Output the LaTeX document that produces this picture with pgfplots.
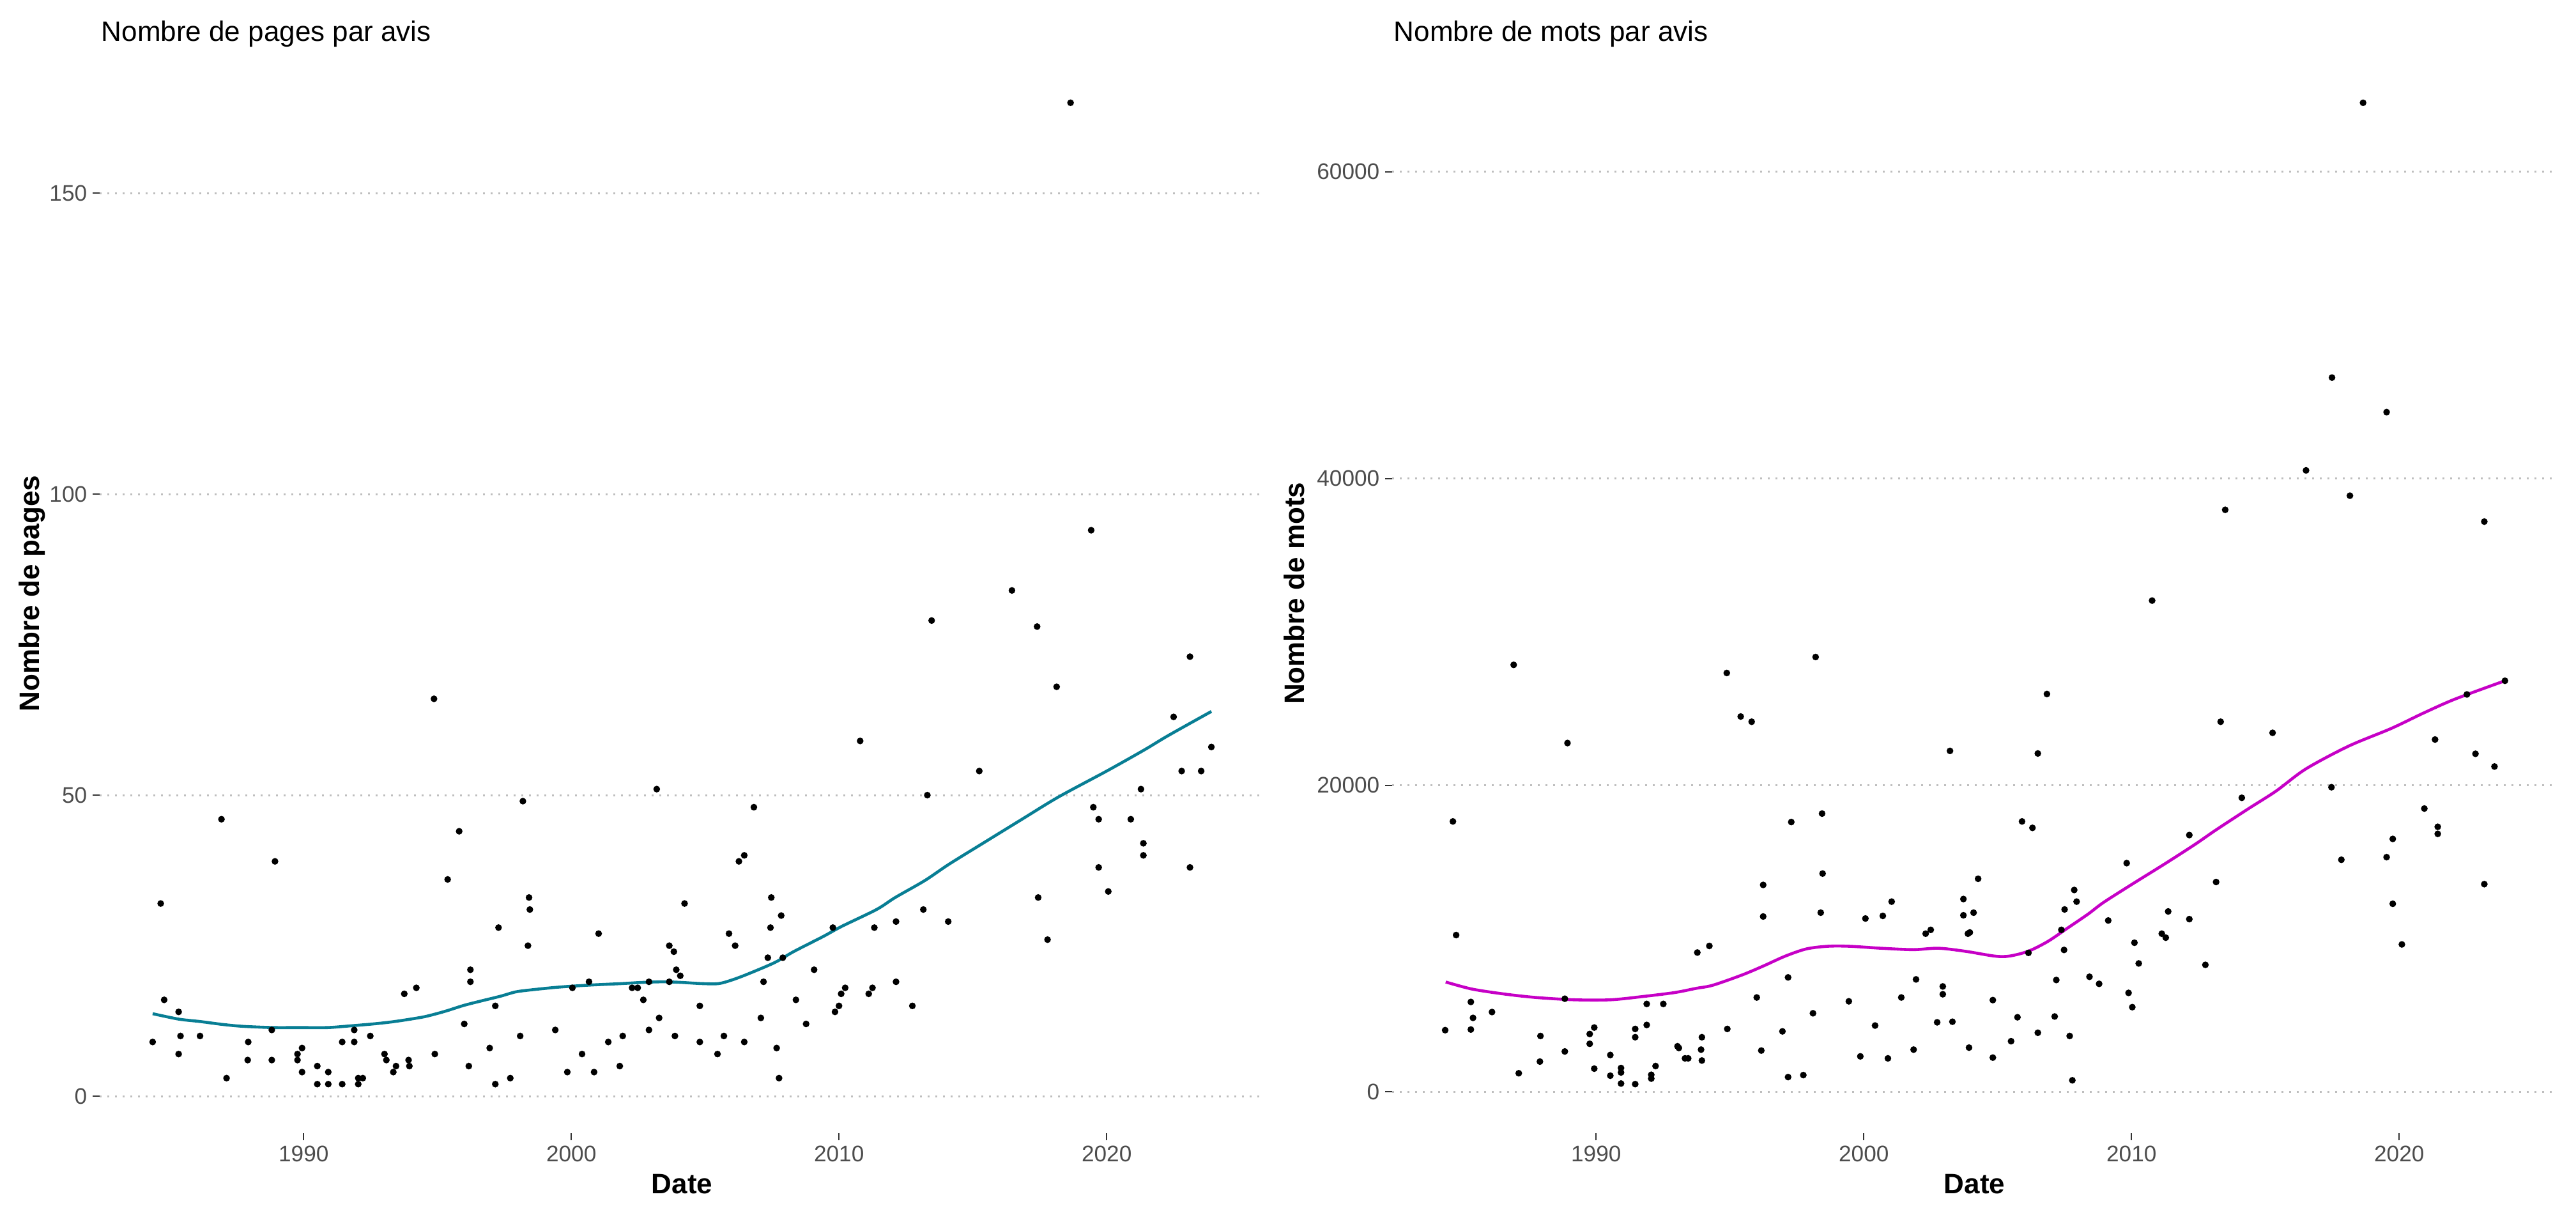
\documentclass[border=0pt]{standalone}
\usepackage{fontspec}
\setmainfont{Liberation Sans}
\usepackage{pgfplots}
\pgfplotsset{compat=1.18}
\definecolor{teal1}{RGB}{8,126,148}
\definecolor{mag1}{RGB}{198,0,198}
\definecolor{tickgray}{RGB}{77,77,77}
\definecolor{gridgray}{RGB}{190,190,190}
\pgfplotsset{
  panel/.style={
    scale only axis, width=455.75pt, height=422.25pt,
    anchor=south west,
    xmin=1982.38, xmax=2025.89,
    axis line style={draw=none},
    tick align=outside, tick pos=left,
    major tick length=2.75pt,
    tick style={color=black!80, line width=0.5pt},
    xtick={1990,2000,2010,2020},
    ymajorgrids,
    major grid style={color=gridgray, line width=0.75pt, line cap=butt, dash pattern=on 0.75pt off 2.25pt},
    ticklabel style={font=\fontsize{8.8}{10}\selectfont, text=tickgray, inner sep=2pt},
    /pgf/number format/assume math mode=true,
    /pgf/number format/1000 sep={},
    scaled ticks=false,
  },
  pts/.style={only marks, mark=*, mark size=1.1pt, black, mark options={fill=black}},
}
\begin{document}
\begin{tikzpicture}
\useasboundingbox (0,0) rectangle (1008pt,475pt);
% ---------------- left panel ----------------
\begin{axis}[panel, at={(39pt,31.75pt)}, ymin=-6.15, ymax=173.15, ytick={0,50,100,150}]
\addplot[pts] table {
x y
1984.36 9
1984.66 32
1984.79 16
1985.33 14
1985.40 10
1985.33 7
1986.13 10
1986.93 46
1987.12 3
1987.93 9
1987.91 6
1988.81 11
1988.81 6
1988.93 39
1989.77 7
1989.77 6
1989.94 8
1989.94 4
1990.51 5
1990.51 2
1990.92 4
1990.92 2
1991.44 2
1991.44 9
1991.89 11
1991.89 9
1992.04 3
1992.04 2
1992.21 3
1992.49 10
1993.02 7
1993.09 6
1993.35 4
1993.45 5
1993.76 17
1993.92 6
1993.95 5
1994.21 18
1994.87 66
1994.90 7
1995.38 36
1995.81 44
1996.00 12
1996.17 5
1996.23 21
1996.23 19
1996.95 8
1997.16 15
1997.16 2
1997.28 28
1997.72 3
1998.09 10
1998.19 49
1998.38 25
1998.42 33
1998.45 31
1999.40 11
1999.85 4
2000.04 18
2000.40 7
2000.66 19
2000.85 4
2001.02 27
2001.38 9
2001.81 5
2001.92 10
2002.27 18
2002.48 18
2002.69 16
2002.90 11
2002.90 19
2003.19 51
2003.28 13
2003.66 25
2003.66 19
2003.83 24
2003.92 21
2004.07 20
2003.87 10
2004.23 32
2004.80 15
2004.80 9
2005.46 7
2005.70 10
2005.89 27
2006.12 25
2006.26 39
2006.46 40
2006.46 9
2006.82 48
2007.08 13
2007.18 19
2007.34 23
2007.44 28
2007.47 33
2007.67 8
2007.76 3
2007.84 30
2007.90 23
2008.39 16
2008.77 12
2009.07 21
2009.77 28
2009.85 14
2010.00 15
2010.08 17
2010.23 18
2010.79 59
2011.11 17
2011.25 18
2011.32 28
2012.13 29
2012.13 19
2012.74 15
2013.15 31
2013.30 50
2013.46 79
2014.08 29
2015.24 54
2016.46 84
2017.40 78
2017.44 33
2017.79 26
2018.13 68
2018.65 165
2019.42 94
2019.50 48
2019.70 46
2019.70 38
2020.06 34
2020.90 46
2021.28 51
2021.37 42
2021.37 40
2022.50 63
2022.80 54
2023.11 73
2023.11 38
2023.53 54
2023.91 58
};
\addplot[teal1, line width=1.15pt, smooth, tension=0.5] coordinates {
(1984.36,13.7) (1985.33,12.8) (1986.13,12.4) (1987.0,11.9) (1987.74,11.6)
(1988.85,11.4) (1989.8,11.4) (1990.9,11.4) (1991.8,11.7) (1992.6,12.0)
(1993.4,12.4) (1994.4,13.1) (1994.88,13.6) (1995.36,14.2) (1996.0,15.1)
(1996.71,15.9) (1997.35,16.6) (1997.9,17.3) (1998.38,17.6) (1999.49,18.1)
(2000.68,18.45) (2001.87,18.7) (2002.66,18.9) (2003.45,19.0) (2004.09,18.9)
(2004.88,18.7) (2005.5,18.7) (2006.0,19.3) (2006.6,20.3) (2007.6,22.2)
(2008.3,24.0) (2009.4,26.5) (2010.1,28.2) (2011.4,31.0) (2012.1,33.0)
(2013.2,35.8) (2014.1,38.5) (2015.3,41.8) (2016.8,45.9) (2018.2,49.7)
(2020.0,54.0) (2021.4,57.5) (2022.3,59.9) (2023.91,63.9)
};
\end{axis}
% ---------------- right panel ----------------
\begin{axis}[panel, at={(544.75pt,31.75pt)}, ymin=-2690, ymax=67700, ytick={0,20000,40000,60000}]
\addplot[pts] table {
x y
1984.36 4030
1984.65 17640
1984.77 10230
1985.32 5870
1985.40 4830
1985.32 4070
1986.11 5210
1986.92 27850
1987.11 1220
1987.92 3650
1987.90 1980
1988.83 6080
1988.83 2640
1988.93 22750
1989.76 3780
1989.76 3140
1989.93 4200
1989.93 1520
1990.53 2410
1990.53 1060
1990.93 1560
1990.93 1270
1990.93 550
1991.46 510
1991.46 4110
1991.46 3570
1991.89 5740
1991.89 4370
1992.06 1120
1992.06 870
1992.22 1690
1992.51 5740
1993.04 2980
1993.09 2870
1993.32 2190
1993.44 2190
1993.95 3570
1993.92 2760
1993.95 2050
1993.78 9090
1994.23 9520
1994.88 27320
1994.90 4110
1995.40 24480
1995.81 24140
1996.00 6160
1996.17 2700
1996.24 13500
1996.24 11440
1996.96 3950
1997.17 7470
1997.17 970
1997.29 17600
1997.74 1100
1998.10 5130
1998.20 28360
1998.39 11690
1998.44 18150
1998.46 14240
1999.44 5910
1999.87 2320
2000.06 11310
2000.42 4330
2000.71 11480
2000.90 2190
2001.04 12410
2001.40 6160
2001.86 2760
2001.95 7340
2002.31 10320
2002.50 10570
2002.74 4540
2002.95 6880
2002.95 6370
2003.22 22240
2003.31 4580
2003.72 12580
2003.72 11520
2003.89 10320
2003.96 10400
2004.10 11690
2003.93 2890
2004.27 13900
2004.82 5990
2004.82 2240
2005.50 3310
2005.74 4870
2005.91 17640
2006.15 9070
2006.30 17220
2006.50 22070
2006.50 3860
2006.84 25950
2007.13 4920
2007.19 7300
2007.38 10570
2007.48 9260
2007.50 11900
2007.69 3650
2007.79 760
2007.86 13170
2007.95 12410
2008.43 7510
2008.79 7050
2009.13 11180
2009.82 14920
2009.89 6460
2010.03 5530
2010.11 9730
2010.27 8380
2010.77 32040
2011.13 10320
2011.28 10060
2011.37 11770
2012.16 16750
2012.16 11270
2012.76 8290
2013.16 13690
2013.33 24140
2013.50 37960
2014.12 19180
2015.27 23420
2016.52 40530
2017.47 19870
2017.49 46580
2017.84 15140
2018.16 38880
2018.65 64500
2019.53 44330
2019.53 15310
2019.76 16500
2019.76 12270
2020.10 9620
2020.94 18480
2021.34 22980
2021.44 17290
2021.44 16830
2022.53 25920
2022.85 22050
2023.18 37190
2023.18 13550
2023.56 21220
2023.95 26810
};
\addplot[mag1, line width=1.15pt, smooth, tension=0.5] coordinates {
(1984.38,7170) (1985.36,6710) (1986.55,6390) (1987.75,6160) (1989.18,6010)
(1990.54,6010) (1991.73,6220) (1992.93,6480) (1993.72,6750) (1994.36,6960)
(1995.47,7640) (1996.27,8230) (1997.07,8860) (1997.86,9330) (1998.66,9500)
(1999.46,9500) (2000.65,9370) (2001.85,9280) (2002.80,9370) (2003.84,9160)
(2004.88,8860) (2005.44,8860) (2006.15,9180) (2006.87,9810) (2007.59,10660)
(2008.38,11600) (2008.94,12340) (2009.98,13500) (2011.25,14880) (2012.37,16140)
(2013.16,17090) (2014.36,18460) (2015.40,19620) (2016.51,21060) (2018.11,22550)
(2019.70,23700) (2020.90,24700) (2022.09,25620) (2023.95,26810)
};
\end{axis}
% ---------------- texts ----------------
\node[anchor=base west, inner sep=0pt, font=\fontsize{11}{13}\selectfont] at (39.5pt,458.85pt) {Nombre de pages par avis};
\node[anchor=base west, inner sep=0pt, font=\fontsize{11}{13}\selectfont] at (545.25pt,458.85pt) {Nombre de mots par avis};
\node[anchor=base, inner sep=0pt, font=\bfseries\fontsize{11}{13}\selectfont] at (266.9pt,8.25pt) {Date};
\node[anchor=base, inner sep=0pt, font=\bfseries\fontsize{11}{13}\selectfont] at (772.6pt,8.25pt) {Date};
\node[rotate=90, anchor=base, inner sep=0pt, font=\bfseries\fontsize{11}{13}\selectfont] at (15.25pt,242.9pt) {Nombre de pages};
\node[rotate=90, anchor=base, inner sep=0pt, font=\bfseries\fontsize{11}{13}\selectfont] at (510.25pt,242.9pt) {Nombre de mots};
\end{tikzpicture}
\end{document}
